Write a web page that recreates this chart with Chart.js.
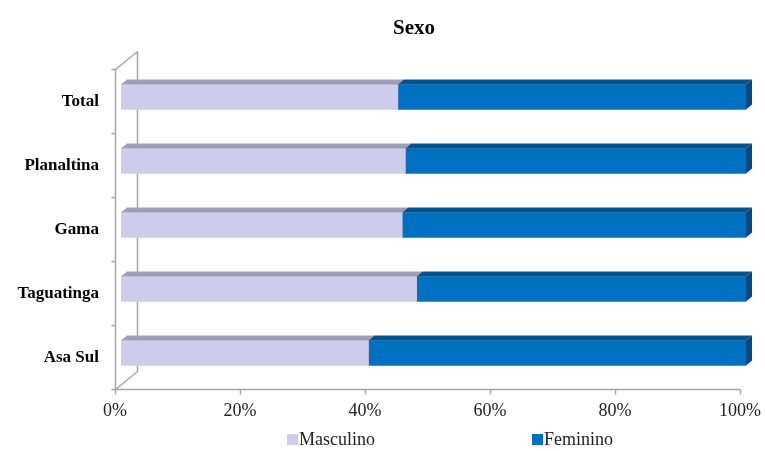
<!DOCTYPE html>
<html>
<head>
<meta charset="utf-8">
<script src="https://cdn.jsdelivr.net/npm/chart.js@4/dist/chart.umd.min.js"></script>
<style>
  html, body { margin: 0; padding: 0; background: #fff; }
  #wrap { width: 765px; height: 451px; }
</style>
</head>
<body>
<div id="wrap"><canvas id="myChart"></canvas></div>
<script>
const titleText = 'Sexo';
const categories = ['Total', 'Planaltina', 'Gama', 'Taguatinga', 'Asa Sul'];
const masculino = [44.3, 45.5, 45.0, 47.3, 39.6];
const feminino = [55.7, 54.5, 55.0, 52.7, 60.4];
const xTicks = [0, 20, 40, 60, 80, 100];

const SERIF = '"Liberation Serif", "Times New Roman", serif';

// colours for front, top and right faces of each series
const faces = [
    { front: '#CDCDEB', top: '#A29DB6', side: '#8E89A6' },
    { front: '#0070C0', top: '#00538F', side: '#004A80' },
];

// bar depth, and the wall depth behind it
const DX = 6, DY = -5;
const WALL_DX = 22, WALL_DY = -18;
const FRONT_DX = -5.5, FRONT_DY = 4.5;

const walls = {
    id: 'walls',
    beforeDatasetsDraw(chart) {
        const ctx = chart.ctx;
        const a = chart.chartArea;
        const xs = chart.scales.x;
        const fx = a.left + FRONT_DX;
        const top = a.top + FRONT_DY;
        const bottom = a.bottom + FRONT_DY;
        const n = categories.length;
        ctx.save();
        ctx.strokeStyle = '#A6A6A6';
        ctx.lineWidth = 1.5;
        ctx.beginPath();
        // left wall
        ctx.moveTo(fx, top); ctx.lineTo(fx, bottom);
        ctx.moveTo(fx + WALL_DX, top + WALL_DY); ctx.lineTo(fx + WALL_DX, bottom + WALL_DY);
        ctx.moveTo(fx, top); ctx.lineTo(fx + WALL_DX, top + WALL_DY);
        ctx.moveTo(fx, bottom); ctx.lineTo(fx + WALL_DX, bottom + WALL_DY);
        // category ticks
        for (let i = 0; i <= n; i++) {
            const y = top + (bottom - top) * i / n;
            ctx.moveTo(fx - 4, y); ctx.lineTo(fx, y);
        }
        // floor
        ctx.moveTo(fx, bottom); ctx.lineTo(xs.getPixelForValue(100) + FRONT_DX, bottom);
        xTicks.forEach(v => {
            const x = xs.getPixelForValue(v) + FRONT_DX;
            ctx.moveTo(x, bottom); ctx.lineTo(x, bottom + 5);
        });
        ctx.stroke();
        ctx.restore();
    }
};

const bar3d = {
    id: 'bar3d',
    afterDatasetsDraw(chart) {
        const ctx = chart.ctx;
        const last = chart.data.datasets.length - 1;
        ctx.save();
        chart.data.datasets.forEach((ds, di) => {
            chart.getDatasetMeta(di).data.forEach(bar => {
                const p = bar.getProps(['x', 'y', 'base', 'height'], true);
                const top = p.y - p.height / 2;
                const bottom = p.y + p.height / 2;
                const left = Math.min(p.base, p.x);
                const right = Math.max(p.base, p.x);
                ctx.fillStyle = faces[di].top;
                ctx.beginPath();
                ctx.moveTo(left, top);
                ctx.lineTo(left + DX, top + DY);
                ctx.lineTo(right + DX, top + DY);
                ctx.lineTo(right, top);
                ctx.closePath();
                ctx.fill();
                if (di === last) {
                    ctx.fillStyle = faces[di].side;
                    ctx.beginPath();
                    ctx.moveTo(right, top);
                    ctx.lineTo(right + DX, top + DY);
                    ctx.lineTo(right + DX, bottom + DY);
                    ctx.lineTo(right, bottom);
                    ctx.closePath();
                    ctx.fill();
                }
            });
        });
        ctx.restore();
    }
};

// title and legend
const labelsPlugin = {
    id: 'labelsPlugin',
    afterDraw(chart) {
        const ctx = chart.ctx;
        ctx.save();
        ctx.fillStyle = '#000';
        ctx.textAlign = 'center';
        ctx.textBaseline = 'middle';
        ctx.font = 'bold 21px ' + SERIF;
        ctx.fillText(titleText, 414, 29);

        const legendX = [287, 532];
        ctx.font = '18px ' + SERIF;
        ctx.textAlign = 'left';
        chart.data.datasets.forEach((ds, i) => {
            ctx.fillStyle = faces[i].front;
            ctx.fillRect(legendX[i], 434, 11, 11);
            ctx.fillStyle = '#222';
            ctx.fillText(ds.label, legendX[i] + 12, 440);
        });
        ctx.restore();
    }
};

new Chart(document.getElementById('myChart').getContext('2d'), {
    type: 'bar',
    data: {
        labels: categories,
        datasets: [
            { label: 'Masculino', data: masculino, backgroundColor: faces[0].front },
            { label: 'Feminino', data: feminino, backgroundColor: faces[1].front },
        ],
    },
    options: {
        indexAxis: 'y',
        responsive: true,
        maintainAspectRatio: false,
        animation: false,
        layout: {
            padding: { left: 0, right: 19, top: 65, bottom: 0 },
        },
        datasets: {
            bar: { barThickness: 25, borderWidth: 0 },
        },
        plugins: {
            legend: { display: false },
            tooltip: { enabled: false },
        },
        scales: {
            x: {
                stacked: true,
                min: 0,
                max: 100,
                afterFit: s => {
                    s.height = 66;
                    s.paddingLeft = 0;
                    s.paddingRight = 0;
                },
                afterBuildTicks: s => { s.ticks = xTicks.map(v => ({ value: v })); },
                grid: { display: false, drawTicks: false },
                border: { display: false },
                ticks: {
                    padding: 15,
                    labelOffset: -6,
                    color: '#222',
                    font: { family: SERIF, size: 18 },
                    callback: v => v + '%',
                },
            },
            y: {
                stacked: true,
                afterFit: s => { s.width = 121; },
                grid: { display: false, drawTicks: false },
                border: { display: false },
                ticks: {
                    padding: 22,
                    labelOffset: 4.5,
                    color: '#000',
                    font: { family: SERIF, size: 17, weight: 'bold' },
                },
            },
        },
    },
    plugins: [walls, bar3d, labelsPlugin],
});
</script>
</body>
</html>
